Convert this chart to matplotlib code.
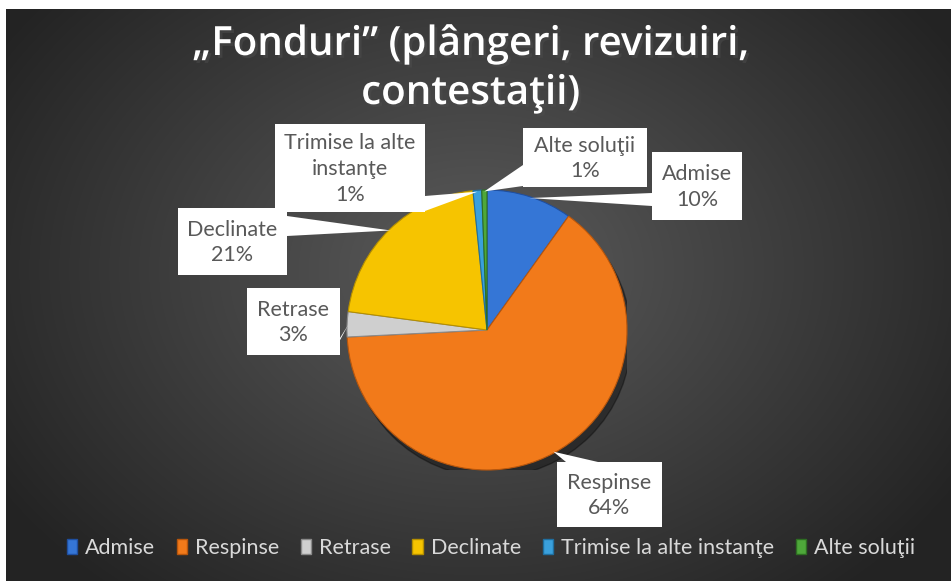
import numpy as np
import matplotlib
matplotlib.use("Agg")
import matplotlib.pyplot as plt
from matplotlib.patches import Rectangle, Polygon, Patch, Circle
import matplotlib.patheffects as pe

# data
categories = ["Admise", "Respinse", "Retrase", "Declinate",
              "Trimise la alte instanţe", "Alte soluţii"]
shares = [9.9, 64.3, 2.9, 21.3, 1.0, 0.6]
label_names = ["Admise", "Respinse", "Retrase", "Declinate",
               "Trimise la alte\ninstanţe", "Alte soluţii"]
colors = ["#3576d6", "#f27a1a", "#cfcfcf", "#f6c400", "#3aa0dc", "#4ea83a"]
edge_colors = ["#1f4fa0", "#b8560c", "#8a8a8a", "#b58f00", "#1f6fa0", "#2e6e22"]
title = "„Fonduri” (plângeri, revizuiri,\ncontestaţii)"

W, H = 953, 581
fig = plt.figure(figsize=(W / 100, H / 100), dpi=100)
fig.patch.set_facecolor("white")

# dark radial gradient background
bg = fig.add_axes([6 / W, 0, 945 / W, 572 / H])
yy, xx = np.mgrid[0:572, 0:945]
r = np.sqrt(((xx - 470) / 560.0) ** 2 + ((yy - 260) / 420.0) ** 2)
shade = np.clip(0.36 - 0.22 * r, 0.14, 0.36)
bg.imshow(np.dstack([shade] * 3), aspect="auto", interpolation="bilinear")
bg.axis("off")

# pie
cx, cy, R = 487, 330, 140
pax = fig.add_axes([(cx - R) / W, (H - cy - R) / H, 2 * R / W, 2 * R / H])
pax.add_patch(Circle((0.03, -0.05), 1.0, color="black", alpha=0.35, zorder=0))
wedges, _ = pax.pie(shares, colors=colors, startangle=90, counterclock=False,
                    radius=1, wedgeprops=dict(linewidth=0.8))
for w, ec in zip(wedges, edge_colors):
    w.set_edgecolor(ec)
    w.set_zorder(2)
pax.set_aspect("auto")
pax.set_xlim(-1, 1)
pax.set_ylim(-1, 1)
pax.axis("off")

# overlay in pixel coords for callouts
ov = fig.add_axes([0, 0, 1, 1])
ov.set_xlim(0, W)
ov.set_ylim(H, 0)
ov.axis("off")
ov.patch.set_alpha(0)

# label boxes (left, top, right, bottom), wedge base points
boxes = [
    (652, 152, 742, 220, [(652, 193), (652, 206)]),
    (557, 462, 662, 527, [(566, 462), (598, 462)]),
    (247, 288, 340, 355, [(340, 338), (332, 355)]),
    (178, 208, 287, 275, [(287, 216), (287, 236)]),
    (275, 124, 425, 212, [(425, 196), (425, 211)]),
    (523, 128, 647, 187, [(523, 165), (523, 186)]),
]

for i, (w, (l, t, rr, b, base)) in enumerate(zip(wedges, boxes)):
    mid = np.deg2rad((w.theta1 + w.theta2) / 2)
    tip = (cx + R * 0.99 * np.cos(mid), cy - R * 0.99 * np.sin(mid))
    ov.add_patch(Polygon([tip, base[0], base[1]], closed=True,
                         facecolor="white", edgecolor="none", zorder=3))
    ov.add_patch(Rectangle((l, t), rr - l, b - t, facecolor="white",
                           edgecolor="none", zorder=4))
    txt = f"{label_names[i]}\n{round(shares[i])}%"
    ov.text((l + rr) / 2, (t + b) / 2 + 1, txt, ha="center", va="center",
            fontsize=15.5, color="#595959", family="Lato", linespacing=1.35,
            zorder=5)

# title
ov.text(W / 2 - 6, 69, title, ha="center", va="center", fontsize=29,
        fontweight="semibold", color="white", family="Open Sans",
        linespacing=1.3,
        path_effects=[pe.withSimplePatchShadow(offset=(2, -2), alpha=0.5)])

# legend
handles = [Patch(facecolor=c, edgecolor=ec) for c, ec in zip(colors, edge_colors)]
fig.legend(handles, categories, loc="center", bbox_to_anchor=(0.515, 1 - 548 / H),
           ncol=6, frameon=False, handlelength=0.5, handleheight=0.65,
           handletextpad=0.35, columnspacing=1.0,
           prop={"family": "Lato", "size": 15.5}, labelcolor="#d9d9d9")

fig.savefig("out.png", dpi=100, facecolor=fig.get_facecolor())
